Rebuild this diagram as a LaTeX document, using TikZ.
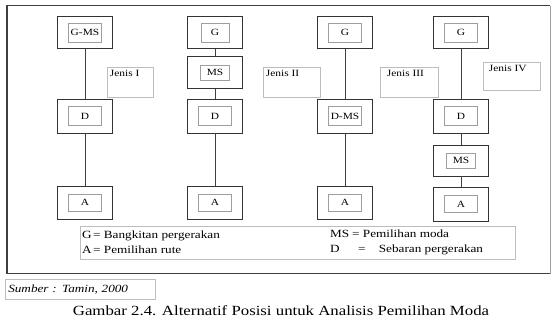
\documentclass[tikz,border=0pt]{standalone}
\usepackage{fontspec}
\setmainfont[FakeStretch=1.2]{Liberation Serif}
\usetikzlibrary{positioning}
\definecolor{frame}{HTML}{3F3F3F}
\definecolor{inner}{HTML}{9E9E9E}
\definecolor{faint}{HTML}{BDBDBD}
\tikzset{
  blok/.style={draw=black!80, line width=0.9pt, minimum width=55pt,
               minimum height=32pt, inner sep=0pt},
  isi/.style={draw=inner, line width=0.6pt, minimum width=33pt,
              minimum height=19pt, inner sep=1pt, font=\fontsize{9.5}{10}\selectfont},
  jenis/.style={draw=faint, line width=0.6pt, minimum height=30pt, inner sep=0pt},
  jenistxt/.style={inner sep=3pt, anchor=north west, font=\fontsize{9.5}{10}\selectfont},
  hub/.style={line width=0.8pt, draw=black!75},
  ket/.style={anchor=west, align=left, inner sep=0pt,
              font=\fontsize{11}{15}\selectfont}
}

\begin{document}
\begin{tikzpicture}[x=1pt,y=-1pt]
  \useasboundingbox (0,0) rectangle (552,327);
  % bingkai
  \draw[line width=1.8pt, draw=frame] (550,5.5) -- (7,5.5) -- (7,273.5) -- (550,273.5);
  \draw[line width=0.8pt, draw=inner] (550,5.5) -- (550,273.5);

  % Jenis I
  \node[blok] (g1) at (85,32.5) {};
  \node[isi] (g1t) at (g1) {G-MS};
  \node[blok, minimum height=34pt] (d1) at (85,116) {};
  \node[isi] (d1t) at (d1) {D};
  \node[blok, minimum height=33pt] (a1) at (85,202.5) {};
  \node[isi, minimum height=17pt] (a1t) at (a1) {A};

  % Jenis II
  \node[blok] (g2) at (215,32.5) {};
  \node[isi, minimum width=28pt] (g2t) at (g2) {G};
  \node[blok] (ms2) at (215,72.5) {};
  \node[isi, minimum width=29pt, minimum height=15pt] (ms2t) at (ms2) {MS};
  \node[blok, minimum height=34pt] (d2) at (215,116) {};
  \node[isi] (d2t) at (d2) {D};
  \node[blok, minimum height=33pt] (a2) at (215,202.5) {};
  \node[isi, minimum height=17pt] (a2t) at (a2) {A};

  % Jenis III
  \node[blok] (g3) at (345,32.5) {};
  \node[isi] (g3t) at (g3) {G};
  \node[blok, minimum height=34pt] (dms3) at (345,116) {};
  \node[isi] (dms3t) at (dms3) {D-MS};
  \node[blok, minimum height=33pt] (a3) at (345,202.5) {};
  \node[isi, minimum height=17pt] (a3t) at (a3) {A};

  % Jenis IV
  \node[blok] (g4) at (461,32.5) {};
  \node[isi] (g4t) at (g4) {G};
  \node[blok, minimum height=34pt] (d4) at (461,116) {};
  \node[isi] (d4t) at (d4) {D};
  \node[blok, minimum height=31pt] (ms4) at (461,160.5) {};
  \node[isi, minimum width=29pt, minimum height=15pt] (ms4t) at (ms4) {MS};
  \node[blok, minimum height=34pt] (a4) at (461,204) {};
  \node[isi, minimum height=17pt] (a4t) at (a4) {A};

  % garis
  \draw[hub] (g1) -- (d1);
  \draw[hub] (d1) -- (a1);
  \draw[hub] (g2) -- (ms2);
  \draw[hub] (ms2) -- (d2);
  \draw[hub] (d2) -- (a2);
  \draw[hub] (g3) -- (dms3);
  \draw[hub] (dms3) -- (a3);
  \draw[hub] (g4) -- (d4);
  \draw[hub] (d4) -- (ms4);
  \draw[hub] (ms4) -- (a4);

  % label jenis
  \node[jenis, minimum width=46pt] (j1) at (130,82) {};
  \node[jenistxt] (j1t) at (j1.north west) {Jenis I};
  \node[jenis, minimum width=57pt] (j2) at (291.5,82) {};
  \node[jenistxt] (j2t) at (j2.north west) {Jenis II};
  \node[jenis, minimum width=58pt] (j3) at (409,82) {};
  \node[jenistxt, xshift=4pt] (j3t) at (j3.north west) {Jenis III};
  \node[jenis, minimum width=57pt, minimum height=28pt] (j4) at (511.5,76) {};
  \node[jenistxt, xshift=3pt] (j4t) at (j4.north west) {Jenis IV};

  % keterangan
  \node[draw=faint, line width=0.6pt, minimum width=435pt, minimum height=33pt] (leg) at (297.5,242.5) {};
  \node[ket] (legl) at (82,242) {\makebox[11pt][l]{G}= Bangkitan pergerakan\\
                                  \makebox[11pt][l]{A}= Pemilihan rute};
  \node[ket] (legr) at (330,242) {\makebox[22pt][l]{MS}=\ Pemilihan moda\\
                                   \makebox[28pt][l]{D}=\ \ \ \ Sebaran pergerakan};

  % sumber dan judul
  \node[draw=faint, line width=0.6pt, anchor=north west, minimum width=150pt,
        minimum height=20pt, text width=144pt, inner sep=2pt, align=left,
        font=\fontsize{11}{12}\selectfont\itshape] (src) at (5,279) {Sumber : Tamin, 2000};
  \node[font=\fontsize{14}{15}\selectfont] (cap) at (281,311)
      {Gambar 2.4. Alternatif Posisi untuk Analisis Pemilihan Moda};
\end{tikzpicture}
\end{document}
